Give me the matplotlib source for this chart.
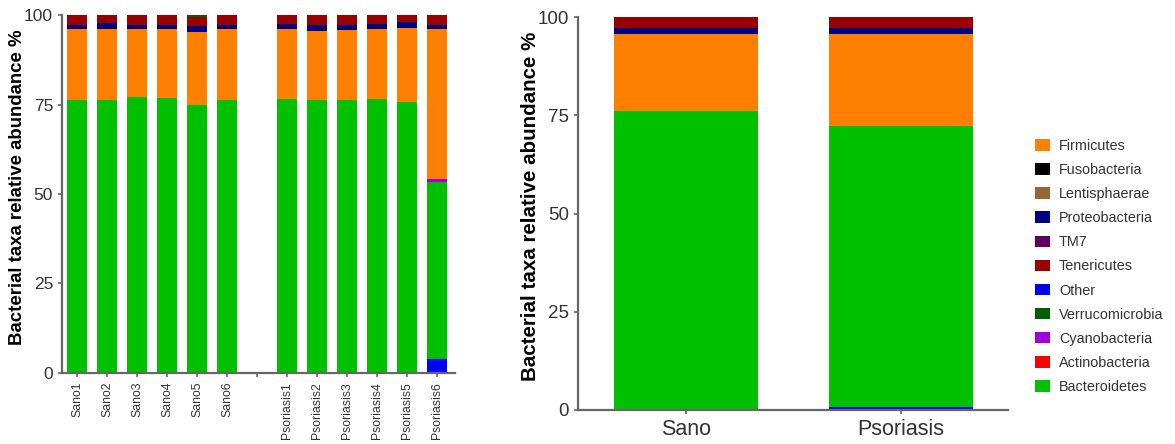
import numpy as np
import matplotlib.pyplot as plt
from matplotlib.patches import Patch

plt.rcParams['font.family'] = ['Liberation Sans', 'DejaVu Sans']

# ---------------- per-sample relative abundances (%) ----------------
samples = ["Sano1", "Sano2", "Sano3", "Sano4", "Sano5", "Sano6",
           "Psoriasis1", "Psoriasis2", "Psoriasis3", "Psoriasis4", "Psoriasis5", "Psoriasis6"]

other           = [0, 0, 0, 0, 0, 0, 0, 0, 0, 0, 0, 4.0]
bacteroidetes   = [76.4, 76.3, 77.0, 76.8, 74.8, 76.3, 76.6, 76.3, 76.3, 76.6, 75.8, 49.4]
actinobacteria  = [0, 0, 0, 0, 0, 0, 0, 0, 0, 0, 0, 0]
cyanobacteria   = [0, 0, 0, 0, 0, 0, 0, 0, 0, 0, 0, 0.8]
firmicutes      = [19.6, 19.7, 19.0, 19.2, 20.5, 19.7, 19.4, 19.3, 19.5, 19.4, 20.7, 41.8]
fusobacteria    = [0, 0, 0, 0, 0, 0, 0, 0, 0, 0, 0, 0]
lentisphaerae   = [0, 0, 0, 0, 0, 0, 0, 0, 0, 0, 0, 0]
proteobacteria  = [1.3, 1.7, 1.3, 1.3, 1.6, 1.3, 1.4, 1.6, 1.5, 1.5, 1.5, 1.3]
tm7             = [0, 0, 0, 0, 0, 0, 0, 0, 0, 0, 0, 0]
tenericutes     = [2.7, 2.3, 2.7, 2.7, 2.6, 2.7, 2.6, 2.8, 2.7, 2.5, 2.0, 2.7]
verrucomicrobia = [0, 0, 0, 0, 0.5, 0, 0, 0, 0, 0, 0, 0]

# ---------------- group averages (%) ----------------
groups = ["Sano", "Psoriasis"]
grp_other           = [0, 0.7]
grp_bacteroidetes   = [76.2, 71.6]
grp_actinobacteria  = [0, 0]
grp_cyanobacteria   = [0, 0.1]
grp_firmicutes      = [19.6, 23.4]
grp_fusobacteria    = [0, 0]
grp_lentisphaerae   = [0, 0]
grp_proteobacteria  = [1.3, 1.3]
grp_tm7             = [0, 0]
grp_tenericutes     = [2.9, 2.9]
grp_verrucomicrobia = [0, 0]

colors = {
    "Firmicutes": "#ff8000",
    "Fusobacteria": "#000000",
    "Lentisphaerae": "#996633",
    "Proteobacteria": "#000080",
    "TM7": "#600060",
    "Tenericutes": "#990000",
    "Other": "#0000ff",
    "Verrucomicrobia": "#006000",
    "Cyanobacteria": "#a000e0",
    "Actinobacteria": "#ff0000",
    "Bacteroidetes": "#00c000",
}

# stacking order, bottom to top
stack_left = [("Other", other), ("Bacteroidetes", bacteroidetes), ("Actinobacteria", actinobacteria),
              ("Cyanobacteria", cyanobacteria), ("Firmicutes", firmicutes), ("Fusobacteria", fusobacteria),
              ("Lentisphaerae", lentisphaerae), ("Proteobacteria", proteobacteria), ("TM7", tm7),
              ("Tenericutes", tenericutes), ("Verrucomicrobia", verrucomicrobia)]
stack_right = [("Other", grp_other), ("Bacteroidetes", grp_bacteroidetes), ("Actinobacteria", grp_actinobacteria),
               ("Cyanobacteria", grp_cyanobacteria), ("Firmicutes", grp_firmicutes), ("Fusobacteria", grp_fusobacteria),
               ("Lentisphaerae", grp_lentisphaerae), ("Proteobacteria", grp_proteobacteria), ("TM7", grp_tm7),
               ("Tenericutes", grp_tenericutes), ("Verrucomicrobia", grp_verrucomicrobia)]

legend_order = ["Firmicutes", "Fusobacteria", "Lentisphaerae", "Proteobacteria", "TM7", "Tenericutes",
                "Other", "Verrucomicrobia", "Cyanobacteria", "Actinobacteria", "Bacteroidetes"]

axis_col = "#666666"
text_col = "#333333"


def style_axes(ax):
    for s in ["top", "right"]:
        ax.spines[s].set_visible(False)
    for s in ["left", "bottom"]:
        ax.spines[s].set_color(axis_col)
        ax.spines[s].set_linewidth(1.6)
    ax.tick_params(colors=axis_col, labelcolor=text_col, width=1.2, length=3)
    ax.set_ylim(0, 100)
    ax.set_yticks([0, 25, 50, 75, 100])


fig = plt.figure(figsize=(11.75, 4.44), dpi=100)

# ---------------- left: individual samples ----------------
ax1 = fig.add_axes([0.0528, 0.160, 0.3345, 0.806])
# one empty slot between the two groups
pos = np.array(list(range(6)) + list(range(7, 13)))
bottom = np.zeros(len(samples))
for name, vals in stack_left:
    ax1.bar(pos, vals, width=0.67, bottom=bottom, color=colors[name], linewidth=0)
    bottom += np.array(vals)
style_axes(ax1)
ax1.set_xlim(-0.5, 12.6)
ax1.set_xticks(range(13))
ax1.set_xticklabels(samples[:6] + [""] + samples[6:], rotation=90, fontsize=8.8)
ax1.tick_params(axis="y", labelsize=12.5)
ax1.set_ylabel("Bacterial taxa relative abundance %", fontsize=13.4, fontweight="bold")
ax1.yaxis.set_label_coords(-0.092, 0.518)

# ---------------- right: group averages ----------------
ax2 = fig.add_axes([0.492, 0.0766, 0.366, 0.885])
pos2 = np.arange(len(groups))
bottom = np.zeros(len(groups))
for name, vals in stack_right:
    ax2.bar(pos2, vals, width=0.67, bottom=bottom, color=colors[name], linewidth=0)
    bottom += np.array(vals)
style_axes(ax2)
ax2.set_xlim(-0.5, 1.5)
ax2.set_xticks(pos2)
ax2.set_xticklabels(groups, fontsize=15.5)
ax2.tick_params(axis="y", labelsize=13.5)
ax2.set_ylabel("Bacterial taxa relative abundance %", fontsize=14.8, fontweight="bold")
ax2.yaxis.set_label_coords(-0.088, 0.519)

handles = [Patch(facecolor=colors[n], edgecolor="none") for n in legend_order]
fig.legend(handles, legend_order, loc="center left", bbox_to_anchor=(0.870, 0.40),
           frameon=False, fontsize=10.4, labelcolor=text_col, handlelength=1.05, handleheight=0.85,
           handletextpad=0.6, labelspacing=0.7)

fig.savefig("out.png", dpi=100)
